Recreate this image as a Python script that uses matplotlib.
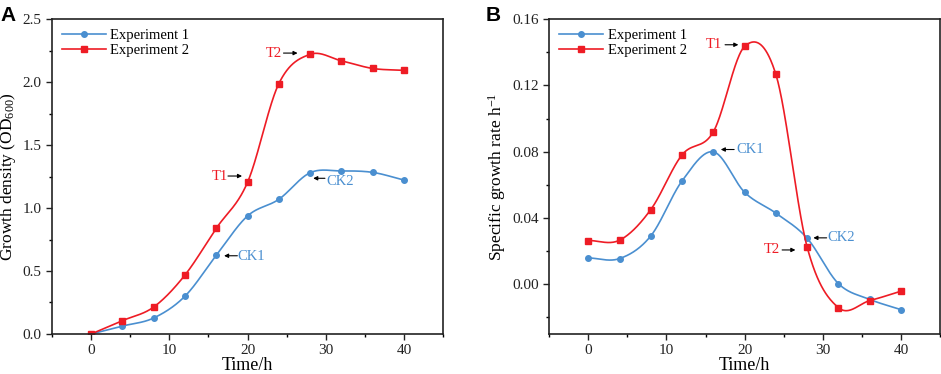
import numpy as np
import matplotlib
matplotlib.use("Agg")
import matplotlib.pyplot as plt
from matplotlib.ticker import MultipleLocator, FormatStrFormatter

plt.rcParams['font.family'] = ['Liberation Serif', 'DejaVu Sans']
plt.rcParams['mathtext.fontset'] = 'custom'
plt.rcParams['mathtext.rm'] = 'Liberation Serif'
plt.rcParams['mathtext.it'] = 'Liberation Serif:italic'

time_h = [0, 4, 8, 12, 16, 20, 24, 28, 32, 36, 40]
od_exp1 = [0.0, 0.063, 0.127, 0.30, 0.624, 0.937, 1.069, 1.28, 1.294, 1.283, 1.222]
od_exp2 = [0.0, 0.106, 0.214, 0.468, 0.839, 1.204, 1.987, 2.22, 2.169, 2.108, 2.093]
rate_exp1 = [0.0159, 0.0155, 0.0292, 0.0624, 0.0799, 0.0555, 0.0429, 0.0278, 0.0004, -0.0091, -0.0153]
rate_exp2 = [0.0264, 0.0266, 0.0451, 0.0781, 0.092, 0.1435, 0.1266, 0.0225, -0.0141, -0.0099, -0.0042]

BLUE = '#4a8fd0'
RED = '#ee1c25'


def smooth(x, y, n=60):
    """Cubic Hermite (Catmull-Rom style) curve through the data points."""
    x = np.asarray(x, float)
    y = np.asarray(y, float)
    m = len(x)
    d = np.zeros(m)
    d[0] = (y[1] - y[0]) / (x[1] - x[0])
    d[-1] = (y[-1] - y[-2]) / (x[-1] - x[-2])
    for i in range(1, m - 1):
        d[i] = (y[i + 1] - y[i - 1]) / (x[i + 1] - x[i - 1])
    xs_all, ys_all = [], []
    for i in range(m - 1):
        h = x[i + 1] - x[i]
        t = np.linspace(0, 1, n)
        h00 = 2 * t ** 3 - 3 * t ** 2 + 1
        h10 = t ** 3 - 2 * t ** 2 + t
        h01 = -2 * t ** 3 + 3 * t ** 2
        h11 = t ** 3 - t ** 2
        xs_all.append(x[i] + t * h)
        ys_all.append(h00 * y[i] + h10 * h * d[i] + h01 * y[i + 1] + h11 * h * d[i + 1])
    return np.concatenate(xs_all), np.concatenate(ys_all)


fig = plt.figure(figsize=(9.41, 3.74), dpi=100)
axA = fig.add_axes([0.0553, 0.107, 0.4155, 0.842])
axB = fig.add_axes([0.5837, 0.107, 0.4152, 0.842])

LW = 1.2
MS = 4


def plot_series(ax, x, y, color, marker, label):
    xs, ys = smooth(x, y)
    ax.plot(xs, ys, color=color, lw=LW)
    ax.plot(x, y, ls='none', marker=marker, color=color, ms=MS)
    ax.plot([], [], color=color, lw=LW, marker=marker, ms=MS, label=label)


def style(ax):
    for s in ax.spines.values():
        s.set_linewidth(1.2)
        s.set_color('#222222')
    ax.tick_params(axis='both', which='major', direction='out', length=4, width=1.0,
                   labelsize=11, colors='#222222', top=False, right=False)
    ax.tick_params(axis='both', which='minor', direction='out', length=2.5, width=1.0,
                   top=False, right=False)
    ax.set_xlim(-5, 45)
    ax.xaxis.set_major_locator(MultipleLocator(10))
    ax.xaxis.set_minor_locator(MultipleLocator(5))
    ax.set_xlabel('Time/h', fontsize=13, labelpad=0)


legend_kw = dict(loc='upper left', frameon=False, fontsize=10.5, handlelength=3.0,
                 borderaxespad=0.4, labelspacing=0.1, handletextpad=0.3,
                 borderpad=0.3)
arrow = dict(arrowstyle='-|>', color='black', lw=0.8, mutation_scale=6,
             shrinkA=0, shrinkB=0)
ANN = 10.5

# Panel A
plot_series(axA, time_h, od_exp1, BLUE, 'o', 'Experiment 1')
plot_series(axA, time_h, od_exp2, RED, 's', 'Experiment 2')
style(axA)
axA.set_ylim(0, 2.5)
axA.yaxis.set_major_locator(MultipleLocator(0.5))
axA.yaxis.set_minor_locator(MultipleLocator(0.25))
axA.yaxis.set_major_formatter(FormatStrFormatter('%.1f'))
axA.set_ylabel('Growth density (OD$_{600}$)', fontsize=12.5, labelpad=3)
axA.legend(**legend_kw)

axA.text(23.4, 2.23, 'T2', color=RED, fontsize=ANN, ha='center', va='center')
axA.annotate('', xy=(26.4, 2.23), xytext=(24.6, 2.23), arrowprops=arrow)
axA.text(16.5, 1.254, 'T1', color=RED, fontsize=ANN, ha='center', va='center')
axA.annotate('', xy=(19.3, 1.254), xytext=(17.5, 1.254), arrowprops=arrow)
axA.text(31.8, 1.209, 'CK2', color=BLUE, fontsize=ANN, ha='center', va='center')
axA.annotate('', xy=(28.4, 1.236), xytext=(29.9, 1.236), arrowprops=arrow)
axA.text(20.5, 0.615, 'CK1', color=BLUE, fontsize=ANN, ha='center', va='center')
axA.annotate('', xy=(17.0, 0.621), xytext=(18.7, 0.621), arrowprops=arrow)

# Panel B
plot_series(axB, time_h, rate_exp1, BLUE, 'o', 'Experiment 1')
plot_series(axB, time_h, rate_exp2, RED, 's', 'Experiment 2')
style(axB)
axB.set_ylim(-0.03, 0.16)
axB.yaxis.set_major_locator(MultipleLocator(0.04))
axB.yaxis.set_minor_locator(MultipleLocator(0.02))
axB.yaxis.set_major_formatter(FormatStrFormatter('%.2f'))
axB.set_ylabel('Specific growth rate h$^{-1}$', fontsize=12.5, labelpad=3)
axB.legend(**legend_kw)

axB.text(16.1, 0.1445, 'T1', color=RED, fontsize=ANN, ha='center', va='center')
axB.annotate('', xy=(19.2, 0.1445), xytext=(17.5, 0.1445), arrowprops=arrow)
axB.text(20.66, 0.0813, 'CK1', color=BLUE, fontsize=ANN, ha='center', va='center')
axB.annotate('', xy=(16.95, 0.0813), xytext=(18.66, 0.0813), arrowprops=arrow)
axB.text(32.4, 0.028, 'CK2', color=BLUE, fontsize=ANN, ha='center', va='center')
axB.annotate('', xy=(28.8, 0.028), xytext=(30.5, 0.028), arrowprops=arrow)
axB.text(23.5, 0.0207, 'T2', color=RED, fontsize=ANN, ha='center', va='center')
axB.annotate('', xy=(26.5, 0.0207), xytext=(24.8, 0.0207), arrowprops=arrow)

fig.text(0.001, 0.985, 'A', fontsize=15, fontweight='bold', family='Liberation Sans',
         ha='left', va='top')
fig.text(0.516, 0.985, 'B', fontsize=15, fontweight='bold', family='Liberation Sans',
         ha='left', va='top')

fig.savefig('out.png', dpi=100)
